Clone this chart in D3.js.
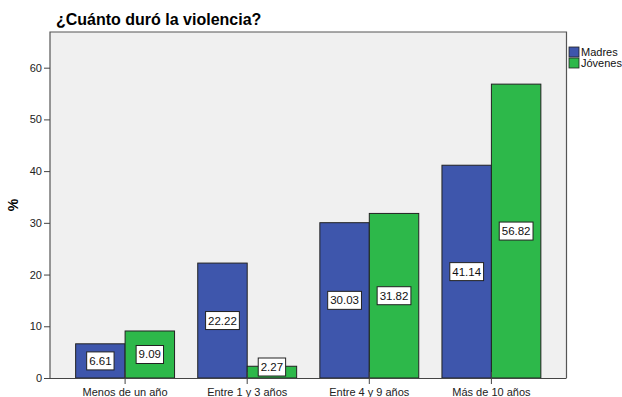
<!DOCTYPE html>
<html>
<head>
<meta charset="utf-8">
<script src="https://cdn.jsdelivr.net/npm/d3@7"></script>
<style>
  html, body { margin: 0; padding: 0; background: #fff; }
  svg { display: block; font-family: "Liberation Sans", Arial, sans-serif; }
</style>
</head>
<body>
<svg id="chart" width="622" height="397"></svg>
<script>
// Duration categories and percentages per group
const categories = ["Menos de un año", "Entre 1 y 3 años", "Entre 4 y 9 años", "Más de 10 años"];
const seriesNames = ["Madres", "Jóvenes"];
const madres = [6.61, 22.22, 30.03, 41.14];
const jovenes = [9.09, 2.27, 31.82, 56.82];
const yTicks = [0, 10, 20, 30, 40, 50, 60];
const colors = ["#3e56ac", "#2db84a"];

const svg = d3.select("#chart");
const plot = { left: 50, right: 566.5, top: 32, bottom: 378 };

const x = d3.scaleBand()
  .domain(categories)
  .range([plot.left, plot.right])
  .paddingInner(0.19)
  .paddingOuter(0.21);

const xInner = d3.scaleBand()
  .domain(seriesNames)
  .range([0, x.bandwidth()]);

const y = d3.scaleLinear()
  .domain([0, 66.9])
  .range([plot.bottom, plot.top]);

// Title
svg.append("text")
  .attr("x", 56).attr("y", 25)
  .attr("font-size", 16).attr("font-weight", "bold")
  .attr("fill", "#000")
  .text("¿Cuánto duró la violencia?");

// Plot background and frame
svg.append("rect")
  .attr("x", plot.left).attr("y", plot.top)
  .attr("width", plot.right - plot.left).attr("height", plot.bottom - plot.top)
  .attr("fill", "#f0f0f0");
svg.append("path")
  .attr("d", `M${plot.left},${plot.bottom}V${plot.top}H${plot.right}V${plot.bottom}`)
  .attr("fill", "none").attr("stroke", "#555").attr("stroke-width", 1.2);

// Y axis
const yAxis = d3.axisLeft(y).tickValues(yTicks).tickSize(6).tickPadding(2).tickFormat(d3.format("d"));
const gy = svg.append("g").attr("transform", `translate(${plot.left},0)`).call(yAxis);
gy.select(".domain").remove();
gy.selectAll(".tick line").attr("stroke", "#444");
gy.selectAll(".tick text").attr("font-size", 11).attr("fill", "#222")
  .attr("font-family", "'Liberation Sans', Arial, sans-serif");

svg.append("text")
  .attr("transform", "translate(18,205) rotate(-90)")
  .attr("text-anchor", "middle")
  .attr("font-size", 14).attr("font-weight", "bold")
  .text("%");

// Bars
const data = categories.map((c, i) => ({ cat: c, values: [madres[i], jovenes[i]] }));
const groups = svg.append("g").selectAll("g")
  .data(data).join("g")
  .attr("transform", d => `translate(${x(d.cat)},0)`);

groups.selectAll("rect")
  .data(d => d.values.map((v, j) => ({ name: seriesNames[j], v, j })))
  .join("rect")
  .attr("x", d => xInner(d.name))
  .attr("y", d => y(d.v))
  .attr("width", xInner.bandwidth())
  .attr("height", d => y(0) - y(d.v))
  .attr("fill", d => colors[d.j])
  .attr("stroke", "#222").attr("stroke-width", 1);

// Value labels in white boxes at bar mid-height
const labels = groups.selectAll("g.lbl")
  .data(d => d.values.map((v, j) => ({ name: seriesNames[j], v, j })))
  .join("g").attr("class", "lbl");

labels.each(function (d) {
  const g = d3.select(this);
  const cx = xInner(d.name) + xInner.bandwidth() / 2;
  const h = 18;
  let cy = (y(d.v) + y(0)) / 2;
  cy = Math.min(cy, y(0) - h / 2 - 2);
  const t = g.append("text")
    .attr("x", cx).attr("y", cy + 4)
    .attr("text-anchor", "middle")
    .attr("font-size", 11.5).attr("fill", "#111")
    .text(d3.format(".2f")(d.v));
  const w = t.node().getComputedTextLength() + 5;
  g.insert("rect", "text")
    .attr("x", cx - w / 2).attr("y", cy - h / 2)
    .attr("width", w).attr("height", h)
    .attr("fill", "#fff").attr("stroke", "#222").attr("stroke-width", 1);
});

// X axis
const xAxis = d3.axisBottom(x).tickSize(6).tickPadding(4);
const gx = svg.append("g").attr("transform", `translate(0,${plot.bottom})`).call(xAxis);
gx.select(".domain").attr("d", `M${plot.left},0.5H${plot.right}`).attr("stroke", "#444");
gx.selectAll(".tick line").attr("stroke", "#444").attr("y1", -6);
gx.selectAll(".tick text").attr("font-size", 11).attr("fill", "#222")
  .attr("font-family", "'Liberation Sans', Arial, sans-serif");

// Legend
const legend = svg.append("g").attr("transform", "translate(569,47)");
seriesNames.forEach((name, i) => {
  legend.append("rect")
    .attr("x", 0).attr("y", i * 11)
    .attr("width", 10).attr("height", 10)
    .attr("fill", colors[i]).attr("stroke", "#222").attr("stroke-width", 0.8);
  legend.append("text")
    .attr("x", 12).attr("y", i * 11 + 9)
    .attr("font-size", 11).attr("fill", "#111")
    .text(name);
});
</script>
</body>
</html>
